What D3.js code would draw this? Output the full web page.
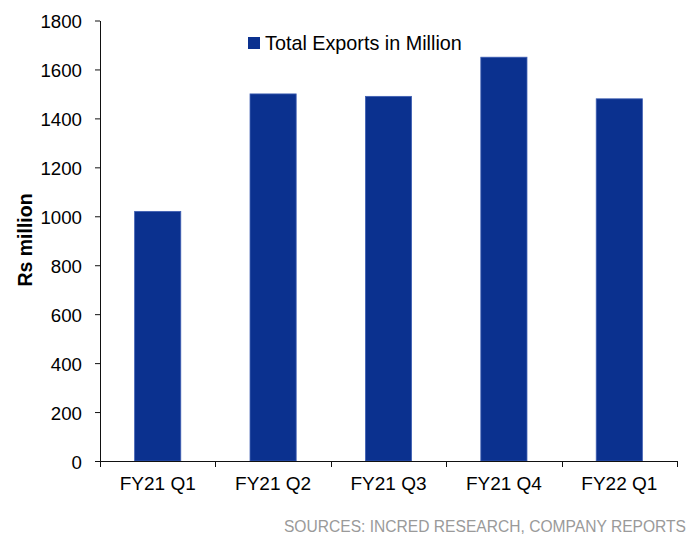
<!DOCTYPE html>
<html>
<head>
<meta charset="utf-8">
<script src="https://cdn.jsdelivr.net/npm/d3@7/dist/d3.min.js"></script>
<style>
  html, body { margin: 0; padding: 0; background: #fff; overflow: hidden; }
  svg { display: block; font-family: "Liberation Sans", Arial, sans-serif; }
</style>
</head>
<body>
<svg id="chart" width="688" height="535"></svg>
<script>
// Quarterly export figures (Rs million)
const categories = ["FY21 Q1", "FY21 Q2", "FY21 Q3", "FY21 Q4", "FY22 Q1"];
const exportsValues = [1020, 1500, 1490, 1650, 1480];
const yTicks = [0, 200, 400, 600, 800, 1000, 1200, 1400, 1600, 1800];
const seriesName = "Total Exports in Million";
const yTitle = "Rs million";
const sourceNote = "SOURCES: INCRED RESEARCH, COMPANY REPORTS";

const svg = d3.select("#chart");
const plotLeft = 100, plotRight = 677, plotTop = 20.5, plotBottom = 461;
const barColor = "#0b318f";

const x = d3.scaleBand()
  .domain(categories)
  .range([plotLeft, plotRight])
  .paddingInner(0.6)
  .paddingOuter(0.3);

const y = d3.scaleLinear()
  .domain([0, 1800])
  .range([plotBottom, plotTop]);

// Bars
svg.append("g")
  .selectAll("rect")
  .data(categories)
  .join("rect")
  .attr("x", d => x(d))
  .attr("y", (d, i) => y(exportsValues[i]))
  .attr("width", x.bandwidth())
  .attr("height", (d, i) => y(0) - y(exportsValues[i]))
  .attr("fill", barColor)
  .attr("stroke", "#3f5fb3")
  .attr("stroke-width", 0.8);

// Y axis
const yAxis = svg.append("g")
  .attr("transform", `translate(${plotLeft},0)`)
  .call(d3.axisLeft(y).tickValues(yTicks).tickFormat(d3.format("d"))
    .tickSize(5).tickPadding(13).tickSizeOuter(0));
yAxis.select(".domain").attr("stroke", "#111");
yAxis.selectAll(".tick line").attr("stroke", "#111");
yAxis.selectAll(".tick text")
  .attr("font-size", "18.7px")
  .attr("fill", "#000")
  .attr("dy", "0.38em")
  .style("font-family", "'Liberation Sans', Arial, sans-serif");

// X axis with ticks on category boundaries
const xAxis = svg.append("g")
  .attr("transform", `translate(0,${plotBottom})`)
  .call(d3.axisBottom(x).tickSize(0).tickPadding(15.5).tickSizeOuter(0));
xAxis.select(".domain").attr("stroke", "#111");
xAxis.selectAll(".tick text")
  .attr("font-size", "19px")
  .attr("fill", "#000")
  .style("font-family", "'Liberation Sans', Arial, sans-serif");

const half = x.step() / 2;
const boundaries = categories.map(c => x(c) + x.bandwidth() / 2 - half)
  .concat([x(categories[categories.length - 1]) + x.bandwidth() / 2 + half]);
svg.append("g")
  .selectAll("line")
  .data(boundaries)
  .join("line")
  .attr("x1", d => Math.round(d) + 0.5).attr("x2", d => Math.round(d) + 0.5)
  .attr("y1", plotBottom).attr("y2", plotBottom + 6)
  .attr("stroke", "#111");

// Y axis title
svg.append("text")
  .attr("transform", `translate(31.5,240) rotate(-90)`)
  .attr("text-anchor", "middle")
  .attr("font-size", "19.5px")
  .attr("font-weight", "bold")
  .attr("fill", "#000")
  .text(yTitle);

// Legend
svg.append("rect")
  .attr("x", 248).attr("y", 37)
  .attr("width", 12).attr("height", 12)
  .attr("fill", barColor);
svg.append("text")
  .attr("x", 265).attr("y", 50)
  .attr("font-size", "19.8px")
  .attr("fill", "#000")
  .text(seriesName);

// Source note, right-aligned to the page edge
svg.append("text")
  .attr("x", 686).attr("y", 531.5)
  .attr("text-anchor", "end")
  .attr("font-size", "15.6px")
  .attr("fill", "#9a9a9a")
  .text(sourceNote);
</script>
</body>
</html>
